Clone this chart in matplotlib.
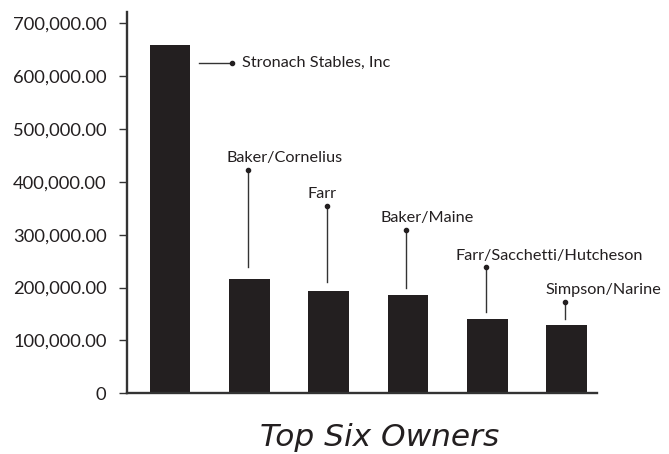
import matplotlib
matplotlib.use("Agg")
import matplotlib.pyplot as plt
from matplotlib.ticker import FuncFormatter

owners = ["Stronach Stables, Inc", "Baker/Cornelius", "Farr", "Baker/Maine",
          "Farr/Sacchetti/Hutcheson", "Simpson/Narine"]
earnings = [659000, 216000, 193500, 186000, 140000, 129000]
y_ticks = [0, 100000, 200000, 300000, 400000, 500000, 600000, 700000]
title = "Top Six Owners"

# callout anchors (dot value, line end value)
dot_vals = [625000, 422000, 354000, 309000, 238000, 173000]
line_end_vals = [None, 238000, 211000, 199000, 154000, 141000]

BAR = "#231f20"
AX = "#333333"
FONT = ["Lato", "DejaVu Sans"]

fig = plt.figure(figsize=(6.69, 4.54), dpi=100)
ax = fig.add_axes([0.1894, 0.1337, 0.7026, 0.8399])

x = list(range(len(owners)))
ax.bar(x, earnings, width=0.51, color=BAR, zorder=2)

ax.set_xlim(-0.545, 5.38)
ax.set_ylim(0, 721000)
ax.set_yticks(y_ticks)
ax.yaxis.set_major_formatter(FuncFormatter(lambda v, p: "0" if v == 0 else f"{v:,.2f}"))
ax.set_xticks([])
for s in ["top", "right"]:
    ax.spines[s].set_visible(False)
for s in ["left", "bottom"]:
    ax.spines[s].set_color(AX)
    ax.spines[s].set_linewidth(1.7)
ax.tick_params(axis="y", direction="out", length=5.5, width=1.0, color=AX,
               pad=9, labelsize=13.2, labelcolor="#231f20")
for lab in ax.get_yticklabels():
    lab.set_family(FONT)

# Stronach callout: horizontal leader
ax.plot([0.365, 0.78], [dot_vals[0], dot_vals[0]], color=AX, lw=1.0)
ax.plot([0.78], [dot_vals[0]], "o", color=BAR, ms=3)
ax.text(0.905, dot_vals[0], owners[0], va="center", ha="left",
        fontsize=11.7, family=FONT, color="#231f20")

text_x = [None, 0.718, 1.738, 2.657, 3.602, 4.736]
for i in range(1, len(owners)):
    xi = i - 0.022
    ax.plot([xi, xi], [dot_vals[i], line_end_vals[i]], color=AX, lw=1.0)
    ax.plot([xi], [dot_vals[i]], "o", color=BAR, ms=3)
    ax.annotate(owners[i], (text_x[i], dot_vals[i]), xytext=(0, 5.5),
                textcoords="offset points", ha="left", va="baseline",
                fontsize=11.7, family=FONT, color="#231f20")

fig.text(380 / 669, 1 - 446 / 454, title, ha="center", va="baseline",
         fontsize=22.5, style="italic", family=["DejaVu Sans"], color="#231f20")

fig.savefig("out.png", dpi=100)
